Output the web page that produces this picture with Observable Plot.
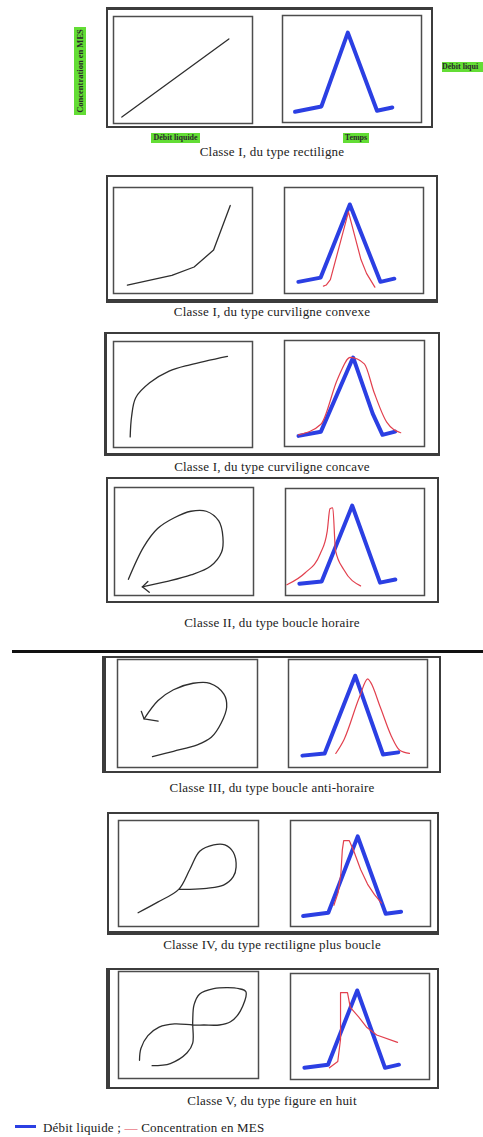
<!DOCTYPE html>
<html><head><meta charset="utf-8">
<script src="https://cdn.jsdelivr.net/npm/d3@7"></script>
<script src="https://cdn.jsdelivr.net/npm/@observablehq/plot@0.6"></script>
<style>
body{margin:0;background:#fff;}
#page{position:relative;width:483px;height:1137px;overflow:hidden;font-family:"Liberation Serif","Tinos","Times New Roman","DejaVu Serif",serif;color:#222;background:#fff;}
.outer{position:absolute;box-sizing:border-box;border:2px solid #3c3c3c;background:#fff;}
.cap{position:absolute;left:272px;transform:translateX(-50%);white-space:nowrap;font-size:13px;letter-spacing:0.2px;line-height:14px;color:#222;}
.tag{position:absolute;background:#63dd35;font-weight:bold;font-size:8px;line-height:10px;color:#2a2a2a;white-space:nowrap;text-align:center;overflow:hidden;}
.box{position:absolute;}
</style></head><body><div id="page"></div>
<script>
// ---------- data (normalised 0-100 schematic values) ----------
const captions = [
  "Classe I, du type rectiligne",
  "Classe I, du type curviligne convexe",
  "Classe I, du type curviligne concave",
  "Classe II, du type boucle horaire",
  "Classe III, du type boucle anti-horaire",
  "Classe IV, du type rectiligne plus boucle",
  "Classe V, du type figure en huit"
];
const axisLabels = ["Concentration en MES", "Débit liquide", "Temps", "Débit liqui"];
const legendLabels = ["Débit liquide ;", "Concentration en MES"];

// concentration vs discharge (left panels)
const hyst1 = [[6,6],[83,79]];
const hyst2 = [[10,8],[42,17],[58,25],[72,41],[84,83]];
const hyst3 = [[12,10],[13,29],[16,47],[26,61],[40,72],[55,78],[82,86]];
const hyst4 = [[10,15],[21,45],[31,62],[43,72],[55,78],[66,78],[75,69],[78,54],[77,40],[69,27],[55,19],[38,13],[20,8]];
const arrow4 = [[24,13],[20,8],[25,3]];
const hyst5 = [[25,10],[40,15],[57,21],[67,28],[74,41],[78,56],[76,68],[66,78],[54,78],[40,72],[29,62],[19,45]];
const arrow5 = [[17,52],[19,45],[29,43]];
const hyst6 = [[14,13],[28,23],[43,35],[51,54],[58,71],[68,77],[76,77],[82,70],[84,56],[82,47],[75,39],[63,36],[51,35],[43,35]];
const hyst7 = [[15,17],[16,28],[21,40],[29,48],[40,51],[53,50],[61,50],[72,50],[80,53],[87,63],[91,81],[86,84],[78,85],[68,84],[58,79],[54,69],[53,53],[53,33],[49,24],[37,14],[24,12]];

// discharge over time (blue)
const q1 = [[9,10],[28,15],[47,84],[68,11],[79,14]];
const q2 = [[10,11],[26,15],[47,84],[69,11],[79,14]];
const q3 = [[10,10],[26,14],[49,84],[63,31],[70,11],[79,14]];
const q4 = [[10,11],[26,13],[48,84],[68,12],[79,15]];
const q5 = [[10,11],[26,13],[48,85],[68,12],[79,14]];
const q6 = [[9,10],[27,13],[48,85],[68,12],[79,14]];
const q7 = [[10,11],[27,14],[48,84],[68,11],[78,14]];

// suspended sediment concentration over time (red)
const c2 = [[28,7],[30,8],[33,13],[46,77],[55,32],[59,19],[65,6]];
const c3 = [[10,11],[26,21],[38,64],[47,84],[57,78],[64,51],[73,23],[83,13]];
const c4 = [[1,10],[14,21],[25,39],[30,60],[32,81],[34,82],[36,42],[42,24],[54,9]];
const c5 = [[34,13],[40,26],[51,65],[57,82],[59,79],[66,56],[74,29],[80,16],[87,13]];
const c6 = [[31,20],[34,32],[36,50],[37,72],[38,81],[42,81],[45,72],[50,54],[55,40],[60,30],[65,22]];
const c7 = [[28,11],[34,17],[36,38],[36,82],[41,82],[43,68],[49,59],[55,49],[62,42],[77,35]];

// ---------- layout (page pixels) ----------
const layout = [
  {outer:[106,7,433,128],  L:[112,15,253,124], R:[281,14,422,123], cap:145, bw:"3px 2px 2px 2px"},
  {outer:[106,175,438,303],L:[112,186,253,294],R:[283,186,424,294],cap:305, bw:"2px 2px 4px 2px"},
  {outer:[104,332,440,456],L:[112,340,253,448],R:[283,339,425,447],cap:460, bw:"2px 2px 3px 3px"},
  {outer:[106,477,439,603],L:[113,486,254,596],R:[284,487,425,596],cap:616, bw:"2px 2px 2px 2px"},
  {outer:[102,656,441,773],L:[116,658,258,768],R:[287,658,428,768],cap:781, bw:"2px 2px 2px 4px"},
  {outer:[107,812,439,935],L:[117,819,259,927],R:[289,819,431,927],cap:938, bw:"2px 2px 4px 2px"},
  {outer:[106,968,439,1089],L:[117,970,259,1079],R:[289,972,430,1080],cap:1094, bw:"2px 2px 2px 4px"}
];

const BLUE = "#2b3fe3", RED = "#e2404e", BLACK = "#2e2e2e";
const leftSeries = [
  [{data:hyst1, curve:"linear"}],
  [{data:hyst2, curve:"linear"}],
  [{data:hyst3, curve:"catmull-rom"}],
  [{data:hyst4, curve:"catmull-rom"},{data:arrow4, curve:"linear"}],
  [{data:hyst5, curve:"catmull-rom"},{data:arrow5, curve:"linear"}],
  [{data:hyst6, curve:"catmull-rom"}],
  [{data:hyst7, curve:"catmull-rom"}]
];
const blueSeries = [q1,q2,q3,q4,q5,q6,q7];
const redSeries = [null,
  {data:c2, curve:"linear"},
  {data:c3, curve:"monotone-x"},
  {data:c4, curve:"monotone-x"},
  {data:c5, curve:"monotone-x"},
  {data:c6, curve:"linear"},
  {data:c7, curve:"linear"}];

const page = document.getElementById("page");
function el(tag, cls, css, text) {
  const e = document.createElement(tag);
  if (cls) e.className = cls;
  Object.assign(e.style, css || {});
  if (text != null) e.textContent = text;
  page.appendChild(e);
  return e;
}
function px(v){return v + "px";}

function panelPlot(rect, marks) {
  const [l,t,r,b] = rect;
  const w = r - l, h = b - t;
  const chart = Plot.plot({
    width: w, height: h, margin: 1,
    x: {domain: [0,100], axis: null},
    y: {domain: [0,100], axis: null},
    style: {background: "white", overflow: "visible"},
    marks: [Plot.frame({stroke: "#4d4d4d", strokeWidth: 1.5}), ...marks]
  });
  const d = el("div", "box", {left: px(l), top: px(t), width: px(w), height: px(h)});
  d.appendChild(chart);
}
function lineMark(s, color, width) {
  return Plot.line(s.data, {x: d => d[0], y: d => d[1], stroke: color, strokeWidth: width, curve: s.curve,
    strokeLinejoin: "round", strokeLinecap: "round"});
}

layout.forEach((p, i) => {
  const [l,t,r,b] = p.outer;
  el("div", "outer", {left: px(l), top: px(t), width: px(r-l), height: px(b-t), borderWidth: p.bw});
  panelPlot(p.L, leftSeries[i].map(s => lineMark(s, BLACK, 1.3)));
  const rm = [lineMark({data: blueSeries[i], curve: "linear"}, BLUE, 4)];
  if (redSeries[i]) rm.push(lineMark(redSeries[i], RED, 1.2));
  panelPlot(p.R, rm);
  el("div", "cap", {top: px(p.cap)}, captions[i]);
});

// green axis tags of the first panel
el("div", "tag", {left: px(36), top: px(65), width: px(88), height: px(12), lineHeight: "12px", fontSize: "8.5px", transform: "rotate(-90deg)"}, axisLabels[0]);
el("div", "tag", {left: px(151), top: px(133), width: px(49), height: px(10)}, axisLabels[1]);
el("div", "tag", {left: px(343), top: px(133), width: px(26), height: px(10)}, axisLabels[2]);
el("div", "tag", {left: px(442), top: px(62), width: px(41), height: px(10), textAlign: "left"}, axisLabels[3]);

// separator rule
el("div", null, {position: "absolute", left: px(12), top: px(650), width: px(471), height: px(2.5), background: "#111"});

// legend
el("div", null, {position: "absolute", left: px(15), top: px(1125), width: px(21), height: px(2.5), background: BLUE});
const lg = el("div", null, {position: "absolute", left: px(43), top: px(1121), fontSize: "13px", letterSpacing: "0.2px", lineHeight: "14px", whiteSpace: "nowrap", color: "#222"});
lg.textContent = legendLabels[0] + " ";
const dash = document.createElement("span");
dash.style.color = RED; dash.textContent = "—";
lg.appendChild(dash);
lg.appendChild(document.createTextNode(" " + legendLabels[1]));
</script></body></html>
